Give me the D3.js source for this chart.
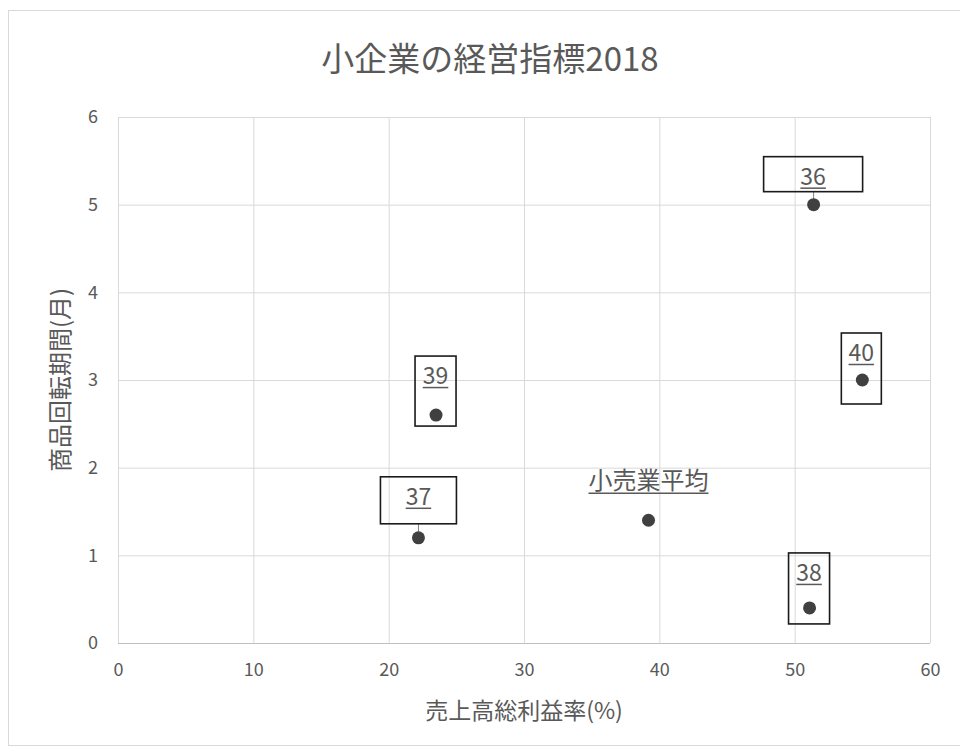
<!DOCTYPE html>
<html>
<head>
<meta charset="utf-8">
<script src="https://cdn.jsdelivr.net/npm/d3@7"></script>
<style>
  body { margin: 0; background: #fff; }
  text { font-family: "Noto Sans CJK JP", "Noto Sans", sans-serif; fill: #595959; }
</style>
</head>
<body>
<div id="chart"></div>
<script>
const width = 960;
const height = 753;

// data
const labels = ["36", "37", "38", "39", "40", "小売業平均"];
const xValues = [51.4, 22.2, 51.1, 23.5, 55.0, 39.2];
const yValues = [5.0, 1.2, 0.4, 2.6, 3.0, 1.4];
const xTicks = [0, 10, 20, 30, 40, 50, 60];
const yTicks = [0, 1, 2, 3, 4, 5, 6];

// label boxes, pixel offsets from the dot (null = no box)
const labelBoxes = [
    { x0: -50, x1: 49, y0: -48, y1: -13, leader: true },
    { x0: -38, x1: 38, y0: -61, y1: -14, leader: true },
    { x0: -21, x1: 20, y0: -55, y1: 16 },
    { x0: -21, x1: 20, y0: -59, y1: 11 },
    { x0: -21, x1: 19, y0: -47, y1: 24 },
    null
];

const margin = { top: 117, right: 30, bottom: 110, left: 118 };

const svg = d3.select("#chart")
    .append("svg")
    .attr("width", width)
    .attr("height", height);

svg.append("rect")
    .attr("x", 8.5).attr("y", 10.5)
    .attr("width", 960).attr("height", 735)
    .attr("fill", "#fff")
    .attr("stroke", "#d9d9d9");

const x = d3.scaleLinear().domain([0, 60]).range([margin.left, width - margin.right]);
const y = d3.scaleLinear().domain([0, 6]).range([height - margin.bottom, margin.top]);

// grid
svg.append("g")
    .selectAll("line")
    .data(xTicks)
    .enter().append("line")
    .attr("x1", d => x(d) + 0.5).attr("x2", d => x(d) + 0.5)
    .attr("y1", y(6)).attr("y2", y(0))
    .attr("stroke", "#d9d9d9");

svg.append("g")
    .selectAll("line")
    .data(yTicks)
    .enter().append("line")
    .attr("x1", x(0)).attr("x2", x(60))
    .attr("y1", d => y(d) + 0.5).attr("y2", d => y(d) + 0.5)
    .attr("stroke", d => d === 0 ? "#bfbfbf" : "#d9d9d9");

// axes
const xAxis = svg.append("g")
    .attr("transform", `translate(0,${y(0)})`)
    .call(d3.axisBottom(x).tickValues(xTicks).tickFormat(d3.format("d")).tickSize(0).tickPadding(20));
const yAxis = svg.append("g")
    .attr("transform", `translate(${x(0)},0)`)
    .call(d3.axisLeft(y).tickValues(yTicks).tickFormat(d3.format("d")).tickSize(0).tickPadding(20));
[xAxis, yAxis].forEach(a => {
    a.select(".domain").remove();
    a.attr("font-size", 18).attr("font-family", "'Noto Sans CJK JP', sans-serif");
    a.selectAll("text").style("fill", "#595959");
});

// titles
svg.append("text")
    .attr("x", 490).attr("y", 71)
    .attr("text-anchor", "middle")
    .attr("font-size", 33)
    .text("小企業の経営指標2018");

svg.append("text")
    .attr("x", 524).attr("y", 719)
    .attr("text-anchor", "middle")
    .attr("font-size", 23)
    .text("売上高総利益率(%)");

svg.append("text")
    .attr("transform", "translate(69,380) rotate(-90)")
    .attr("text-anchor", "middle")
    .attr("font-size", 24)
    .text("商品回転期間(月)");

// points
const pts = labels.map((l, i) => ({ label: l, x: xValues[i], y: yValues[i], box: labelBoxes[i] }));

const g = svg.append("g");

pts.forEach(d => {
    const cx = x(d.x), cy = y(d.y);
    if (d.box) {
        if (d.box.leader) {
            g.append("line")
                .attr("x1", cx).attr("x2", cx)
                .attr("y1", cy + d.box.y1).attr("y2", cy)
                .attr("stroke", "#7f7f7f");
        }
        g.append("rect")
            .attr("x", cx + d.box.x0).attr("y", cy + d.box.y0)
            .attr("width", d.box.x1 - d.box.x0).attr("height", d.box.y1 - d.box.y0)
            .attr("fill", "none")
            .attr("stroke", "#1a1a1a")
            .attr("stroke-width", 1.6);
        const tx = cx + (d.box.x0 + d.box.x1) / 2;
        const ty = cy + d.box.y0 + 28;
        const t = g.append("text")
            .attr("x", tx).attr("y", ty)
            .attr("text-anchor", "middle")
            .attr("font-size", 23)
            .text(d.label);
        const w = t.node().getComputedTextLength();
        g.append("line")
            .attr("x1", tx - w / 2).attr("x2", tx + w / 2)
            .attr("y1", ty + 3.5).attr("y2", ty + 3.5)
            .attr("stroke", "#595959").attr("stroke-width", 1.5);
    } else {
        const ty = cy - 31;
        const t = g.append("text")
            .attr("x", cx).attr("y", ty)
            .attr("text-anchor", "middle")
            .attr("font-size", 24)
            .text(d.label);
        const w = t.node().getComputedTextLength();
        g.append("line")
            .attr("x1", cx - w / 2).attr("x2", cx + w / 2)
            .attr("y1", ty + 4).attr("y2", ty + 4)
            .attr("stroke", "#595959").attr("stroke-width", 1.5);
    }
    g.append("circle")
        .attr("cx", cx).attr("cy", cy)
        .attr("r", 6.5)
        .attr("fill", "#404040");
});
</script>
</body>
</html>
